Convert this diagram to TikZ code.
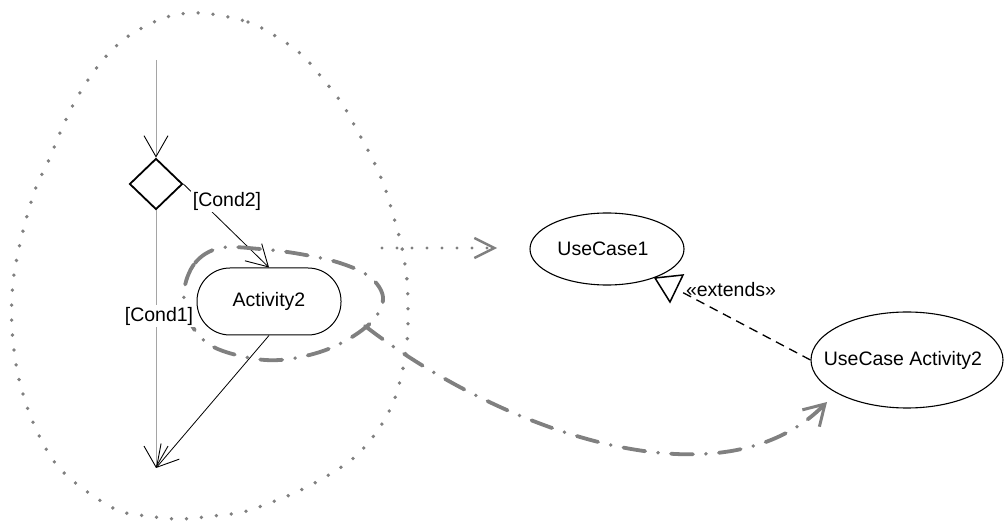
\documentclass[tikz,border=0pt]{standalone}
\usepackage{fontspec}
\setmainfont{Liberation Sans}
\usetikzlibrary{arrows.meta,shapes.geometric}
\definecolor{trace}{RGB}{128,128,128}
\definecolor{flowgray}{RGB}{165,165,165}
\begin{document}
\begin{tikzpicture}[x=1pt,y=-1pt,
  txt/.style={font=\fontsize{19.5}{22}\selectfont},
  usecase/.style={draw, line width=1.1pt, ellipse, inner sep=0pt, txt},
  actbox/.style={draw, line width=1pt, rounded corners=33pt, minimum width=144pt,
                 minimum height=67pt, inner sep=0pt, txt},
  decision/.style={draw, line width=1.8pt, diamond, minimum width=53pt,
                   minimum height=51pt, inner sep=0pt},
  lbl/.style={fill=white, inner sep=1.5pt, txt},
  vee/.style={-{Straight Barb[length=21pt,width=24pt,line width=0.9pt,color=black]}},
  flow/.style={line width=0.8pt, vee},
  mainflow/.style={line width=1pt, draw=flowgray, vee},
  dotring/.style={draw=trace, line width=3.8pt, line cap=round, dash pattern=on 0pt off 15pt},
  dotlink/.style={draw=trace, line width=3.4pt, line cap=round, dash pattern=on 0pt off 15pt,
                  -{Straight Barb[length=20pt,width=20pt,line width=2.4pt]}},
  lasso/.style={draw=trace, line width=3.8pt, line cap=round,
                dash pattern=on 22pt off 13pt on 0pt off 13pt},
  lassotip/.style={-{Straight Barb[length=20pt,width=24pt,line width=3pt]}},
  extline/.style={line width=1.3pt, dash pattern=on 9pt off 6pt},
]
\useasboundingbox (0,0) rectangle (1005,529);

% activity flow
\coordinate (start) at (156,60);
\coordinate (final) at (156,468);
\node[decision] (dec) at (156,184) {};
\node[actbox] (act) at (269,301.5) {Activity2};

\draw[mainflow] (start) -- (dec.north);
\draw[mainflow] (dec.south) -- (final);
\draw[flow] (dec.east) -- (act.north);
\draw[flow] (act.south) -- (final);

% use cases
\node[usecase, minimum width=154pt, minimum height=72pt] (uc1) at (607,249)
  {\makebox[0pt][c]{\hspace*{-8pt}UseCase1}};
\node[usecase, minimum width=192pt, minimum height=96pt] (uca) at (907,360)
  {\makebox[0pt][c]{\hspace*{-8pt}UseCase Activity2}};

% extends relation
\coordinate (extend) at (678,290);
\draw[extline] (uca.west) -- (extend);
\draw[line width=1.5pt, fill=white] (655,278) -- (683,275) -- (670,302) -- cycle;
\node[txt, inner sep=0pt] (extlbl) at (731,290) {«extends»};

% dotted region around the flow
\draw[dotring] plot[smooth cycle, tension=0.55] coordinates {
  (202,13) (248,22) (277,37) (302,55) (323,79) (343,105) (358,132) (373,160)
  (385,188) (394,218) (402,248) (407,280) (408,312) (407,343) (402,373)
  (393,403) (378,430) (357,455) (332,473) (303,489) (275,501) (243,512)
  (213,516) (180,519) (147,516) (117,510) (78,485) (53,460) (32,420)
  (18,375) (12,328) (13,282) (22,235) (35,190) (48,162) (60,133) (73,105)
  (90,77) (110,52) (133,33) (167,17)};
\coordinate (linkfrom) at (382,248);
\draw[dotlink] (linkfrom) -- (497,248);

% lasso around Activity2 leading to its use case
\draw[lasso] plot[smooth cycle, tension=0.6] coordinates {
  (184,292) (195,263) (220,248) (260,249) (300,254) (340,263) (370,277)
  (383,297) (375,318) (352,337) (320,352) (280,360) (245,357) (210,345) (190,322)};
\coordinate (lassoout) at (365,326);
\coordinate (lassoin) at (827,402);
\draw[lasso, lassotip] (lassoout) .. controls (500,430) and (720,510) .. (lassoin);

% guard labels
\node[lbl] (cond2) at (227,201) {[Cond2]};
\node[lbl] (cond1) at (159,316) {[Cond1]};
\end{tikzpicture}
\end{document}
